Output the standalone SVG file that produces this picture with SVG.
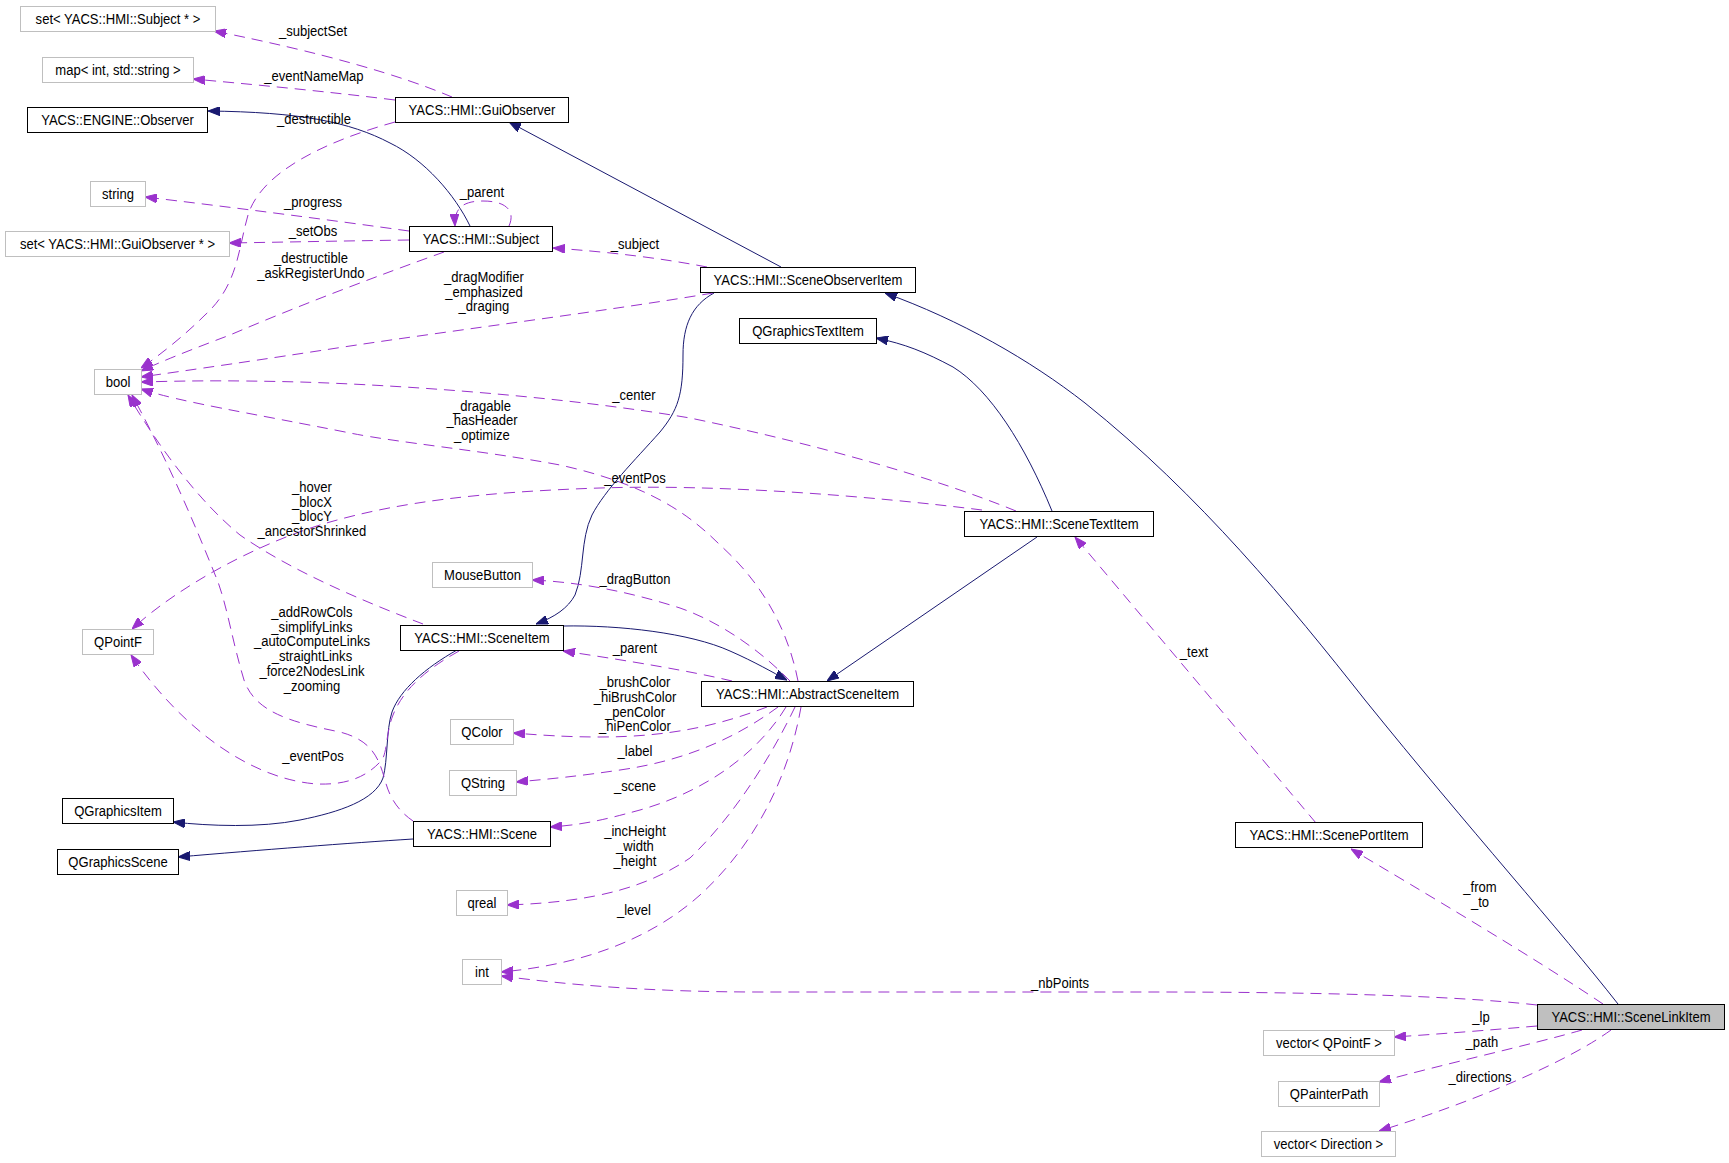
<svg xmlns="http://www.w3.org/2000/svg" width="1729" height="1163" viewBox="0 0 1729 1163">
<style>
text{font-family:"Liberation Sans",Arial,sans-serif;font-size:14.5px;fill:#000;text-anchor:middle;transform-box:fill-box;transform-origin:center;transform:scaleX(0.9)}
.cls rect{fill:#fff;stroke:#000;stroke-width:1}
.typ rect{fill:#fff;stroke:#bfbfbf;stroke-width:1}
.main rect{fill:#bfbfbf;stroke:#000;stroke-width:1}
.inh{fill:none;stroke:#191970;stroke-width:1;marker-end:url(#an)}
.use{fill:none;stroke:#9a32cd;stroke-width:1;stroke-dasharray:11,7;marker-end:url(#ap)}
</style>
<defs>
<marker id="an" markerUnits="userSpaceOnUse" markerWidth="12" markerHeight="9" viewBox="0 0 12 9" refX="12" refY="4.5" orient="auto"><path d="M0,0 L12,4.5 L0,9 z" fill="#191970" stroke="#191970" stroke-width="1"/></marker>
<marker id="ap" markerUnits="userSpaceOnUse" markerWidth="12" markerHeight="9" viewBox="0 0 12 9" refX="12" refY="4.5" orient="auto"><path d="M0,0 L12,4.5 L0,9 z" fill="#9a32cd" stroke="#9a32cd" stroke-width="1"/></marker>
</defs>
<rect width="1729" height="1163" fill="#fff"/>

<g id="connectors">
<path class="inh" d="M470,226 C455,195 425,160 390,143 C350,122 300,112 208,111"/>
<path class="inh" d="M781,267 L509,122"/>
<path class="inh" d="M714,293 C692,305 683,325 683,355 C683,395 678,410 660,432 C635,460 605,490 592,515 C580,540 585,570 575,595 C568,608 555,617 536,624"/>
<path class="inh" d="M563,626 C620,625 690,633 730,651 C755,662 772,672 787,680"/>
<path class="inh" d="M1037,537 L827,681"/>
<path class="inh" d="M1052,511 C1025,445 990,390 953,367 C925,352 905,344 876,338"/>
<path class="inh" d="M1618,1004 C1560,930 1470,830 1365,700 C1290,605 1200,495 1085,403 C1030,360 960,320 885,293"/>
<path class="inh" d="M413,839 C350,843 260,850 178,857"/>
<path class="inh" d="M457,650 C425,668 400,690 392,712 C386,730 388,760 383,778 C375,800 340,812 300,820 C260,828 210,826 173,822"/>

<path class="use" d="M452,97 C400,75 320,52 214,31"/>
<path class="use" d="M395,100 C330,92 270,86 193,79"/>
<path class="use" d="M395,122 C330,140 262,170 248,215 C238,250 238,285 205,315 C185,335 160,355 141,368"/>
<path class="use" d="M509,226 C516,210 505,201 483,201 C463,201 454,208 455,226"/>
<path class="use" d="M409,231 C330,220 230,207 145,197"/>
<path class="use" d="M409,240 C340,241 290,242 229,243"/>
<path class="use" d="M444,252 C380,275 300,305 230,335 C190,350 160,362 141,371"/>
<path class="use" d="M707,267 C660,258 610,252 553,248"/>
<path class="use" d="M713,293 C600,312 470,328 350,346 C260,360 190,370 141,377"/>
<path class="use" d="M1016,511 C935,478 820,445 690,418 C560,396 400,385 300,382 C220,380 180,381 141,382"/>
<path class="use" d="M798,681 C790,640 770,590 720,545 C690,515 650,485 560,465 C480,450 400,443 350,433 C250,413 180,402 141,389"/>
<path class="use" d="M423,624 C360,600 290,570 240,535 C200,502 162,452 128,395"/>
<path class="use" d="M413,821 C400,812 390,800 385,780 C378,755 370,740 340,732 C290,722 255,712 244,680 C232,640 228,610 218,582 C195,525 170,465 132,395"/>
<path class="use" d="M459,651 C425,670 403,690 393,715 C385,735 388,755 380,762 C365,778 345,785 317,784 C260,780 190,740 131,655"/>
<path class="use" d="M982,510 C870,496 720,484 600,488 C480,492 400,502 330,522 C260,542 180,585 132,629"/>
<path class="use" d="M732,681 C690,671 630,661 563,651"/>
<path class="use" d="M790,681 C760,650 720,622 680,608 C630,592 580,582 532,580"/>
<path class="use" d="M767,707 C720,725 670,737 600,737 C565,737 540,735 513,733"/>
<path class="use" d="M778,707 C740,735 690,760 620,770 C580,776 550,779 516,782"/>
<path class="use" d="M786,707 C760,750 710,790 640,810 C600,821 580,825 550,827"/>
<path class="use" d="M795,707 C772,755 735,815 690,858 C650,885 600,902 507,905"/>
<path class="use" d="M801,707 C790,770 760,840 700,895 C650,940 580,965 501,972"/>
<path class="use" d="M1537,1005 C1450,995 1300,992 1150,992 L760,992 C650,992 570,985 501,976"/>
<path class="use" d="M1603,1004 C1530,955 1420,890 1351,849"/>
<path class="use" d="M1537,1026 C1490,1030 1440,1034 1394,1037"/>
<path class="use" d="M1582,1030 C1530,1045 1440,1065 1379,1082"/>
<path class="use" d="M1611,1030 C1570,1060 1480,1100 1379,1131"/>
<path class="use" d="M1316,823 L1075,537"/>

<g id="edge-labels">
<text x="313" y="36">_subjectSet</text>
<text x="314" y="81">_eventNameMap</text>
<text x="314" y="124">_destructible</text>
<text x="482" y="197">_parent</text>
<text x="313" y="207">_progress</text>
<text x="313" y="236">_setObs</text>
<text x="311" y="263">_destructible</text>
<text x="311" y="278">_askRegisterUndo</text>
<text x="635" y="249">_subject</text>
<text x="484" y="282">_dragModifier</text>
<text x="484" y="297">_emphasized</text>
<text x="484" y="311">_draging</text>
<text x="634" y="400">_center</text>
<text x="482" y="411">_dragable</text>
<text x="482" y="425">_hasHeader</text>
<text x="482" y="440">_optimize</text>
<text x="312" y="492">_hover</text>
<text x="312" y="507">_blocX</text>
<text x="312" y="521">_blocY</text>
<text x="312" y="536">_ancestorShrinked</text>
<text x="635" y="483">_eventPos</text>
<text x="635" y="584">_dragButton</text>
<text x="312" y="617">_addRowCols</text>
<text x="312" y="632">_simplifyLinks</text>
<text x="312" y="646">_autoComputeLinks</text>
<text x="312" y="661">_straightLinks</text>
<text x="312" y="676">_force2NodesLink</text>
<text x="312" y="691">_zooming</text>
<text x="635" y="653">_parent</text>
<text x="635" y="687">_brushColor</text>
<text x="635" y="702">_hiBrushColor</text>
<text x="635" y="717">_penColor</text>
<text x="635" y="731">_hiPenColor</text>
<text x="635" y="756">_label</text>
<text x="313" y="761">_eventPos</text>
<text x="635" y="791">_scene</text>
<text x="635" y="836">_incHeight</text>
<text x="635" y="851">_width</text>
<text x="635" y="866">_height</text>
<text x="634" y="915">_level</text>
<text x="1194" y="657">_text</text>
<text x="1480" y="892">_from</text>
<text x="1480" y="907">_to</text>
<text x="1060" y="988">_nbPoints</text>
<text x="1481" y="1022">_lp</text>
<text x="1482" y="1047">_path</text>
<text x="1480" y="1082">_directions</text>
</g>
</g>

<g id="n_setSubject" class="typ"><rect x="20.5" y="6.5" width="195" height="25"/><text x="118" y="24">set&lt; YACS::HMI::Subject * &gt;</text></g>
<g id="n_map" class="typ"><rect x="42.5" y="57.5" width="151" height="25"/><text x="118" y="75">map&lt; int, std::string &gt;</text></g>
<g id="n_engineObserver" class="cls"><rect x="27.5" y="107.5" width="180" height="25"/><text x="117.5" y="125">YACS::ENGINE::Observer</text></g>
<g id="n_guiObserver" class="cls"><rect x="395.5" y="97.5" width="173" height="25"/><text x="482" y="115">YACS::HMI::GuiObserver</text></g>
<g id="n_string" class="typ"><rect x="90.5" y="181.5" width="55" height="25"/><text x="118" y="199">string</text></g>
<g id="n_setGuiObserver" class="typ"><rect x="5.5" y="231.5" width="224" height="25"/><text x="117.5" y="249">set&lt; YACS::HMI::GuiObserver * &gt;</text></g>
<g id="n_subject" class="cls"><rect x="409.5" y="226.5" width="143" height="25"/><text x="481" y="244">YACS::HMI::Subject</text></g>
<g id="n_sceneObserverItem" class="cls"><rect x="700.5" y="267.5" width="215" height="25"/><text x="808" y="285">YACS::HMI::SceneObserverItem</text></g>
<g id="n_qGraphicsTextItem" class="cls"><rect x="739.5" y="318.5" width="137" height="25"/><text x="808" y="336">QGraphicsTextItem</text></g>
<g id="n_bool" class="typ"><rect x="94.5" y="369.5" width="47" height="25"/><text x="118" y="387">bool</text></g>
<g id="n_sceneTextItem" class="cls"><rect x="964.5" y="511.5" width="189" height="25"/><text x="1059" y="529">YACS::HMI::SceneTextItem</text></g>
<g id="n_mouseButton" class="typ"><rect x="432.5" y="562.5" width="100" height="25"/><text x="482.5" y="580">MouseButton</text></g>
<g id="n_qPointF" class="typ"><rect x="82.5" y="629.5" width="71" height="25"/><text x="118" y="647">QPointF</text></g>
<g id="n_sceneItem" class="cls"><rect x="400.5" y="625.5" width="163" height="25"/><text x="482" y="643">YACS::HMI::SceneItem</text></g>
<g id="n_abstractSceneItem" class="cls"><rect x="701.5" y="681.5" width="212" height="25"/><text x="807.5" y="699">YACS::HMI::AbstractSceneItem</text></g>
<g id="n_qColor" class="typ"><rect x="450.5" y="719.5" width="63" height="25"/><text x="482" y="737">QColor</text></g>
<g id="n_qString" class="typ"><rect x="449.5" y="770.5" width="67" height="25"/><text x="483" y="788">QString</text></g>
<g id="n_qGraphicsItem" class="cls"><rect x="62.5" y="798.5" width="111" height="25"/><text x="118" y="816">QGraphicsItem</text></g>
<g id="n_scene" class="cls"><rect x="413.5" y="821.5" width="137" height="25"/><text x="482" y="839">YACS::HMI::Scene</text></g>
<g id="n_qGraphicsScene" class="cls"><rect x="57.5" y="849.5" width="121" height="25"/><text x="118" y="867">QGraphicsScene</text></g>
<g id="n_scenePortItem" class="cls"><rect x="1235.5" y="822.5" width="187" height="25"/><text x="1329" y="840">YACS::HMI::ScenePortItem</text></g>
<g id="n_qreal" class="typ"><rect x="456.5" y="890.5" width="51" height="25"/><text x="482" y="908">qreal</text></g>
<g id="n_int" class="typ"><rect x="462.5" y="959.5" width="39" height="25"/><text x="482" y="977">int</text></g>
<g id="n_sceneLinkItem" class="main"><rect x="1537.5" y="1004.5" width="187" height="25"/><text x="1631" y="1022">YACS::HMI::SceneLinkItem</text></g>
<g id="n_vectorQPointF" class="typ"><rect x="1263.5" y="1030.5" width="131" height="25"/><text x="1329" y="1048">vector&lt; QPointF &gt;</text></g>
<g id="n_qPainterPath" class="typ"><rect x="1278.5" y="1081.5" width="101" height="25"/><text x="1329" y="1099">QPainterPath</text></g>
<g id="n_vectorDirection" class="typ"><rect x="1261.5" y="1131.5" width="134" height="25"/><text x="1328.5" y="1149">vector&lt; Direction &gt;</text></g>
</svg>
